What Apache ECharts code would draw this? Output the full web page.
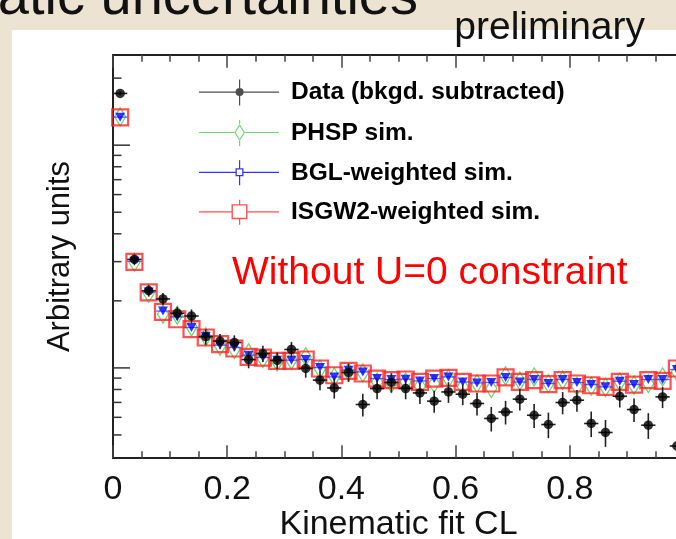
<!DOCTYPE html>
<html>
<head>
<meta charset="utf-8">
<script src="https://cdn.jsdelivr.net/npm/echarts@6/dist/echarts.min.js"></script>
<style>
html,body{margin:0;padding:0;background:#ede3d3;}
#c{width:676px;height:539px;}
</style>
</head>
<body>
<div id="c"></div>
<script>
// ---- data ----
const binCenters = [0.0125,0.0375,0.0625,0.0875,0.1125,0.1375,0.1625,0.1875,0.2125,0.2375,
  0.2625,0.2875,0.3125,0.3375,0.3625,0.3875,0.4125,0.4375,0.4625,0.4875,
  0.5125,0.5375,0.5625,0.5875,0.6125,0.6375,0.6625,0.6875,0.7125,0.7375,
  0.7625,0.7875,0.8125,0.8375,0.8625,0.8875,0.9125,0.9375,0.9625,0.9875];
const dataVals = [17.07,3.07,2.22,2.04,1.76,1.71,1.38,1.32,1.30,1.09,
  1.16,1.08,1.21,0.994,0.881,0.813,0.954,0.685,0.808,0.860,
  0.808,0.772,0.709,0.780,0.762,0.692,0.593,0.634,0.724,0.613,
  0.557,0.699,0.716,0.563,0.513,0.746,0.650,0.553,0.741,0.446];
const dataErrs = [0.37,0.16,0.13,0.13,0.12,0.12,0.11,0.10,0.10,0.094,
  0.097,0.094,0.099,0.09,0.088,0.085,0.09,0.08,0.085,0.086,
  0.085,0.083,0.08,0.083,0.082,0.08,0.075,0.077,0.081,0.076,
  0.073,0.08,0.08,0.074,0.071,0.082,0.078,0.073,0.081,0.066];
const phspVals = [13.4,2.98,2.163,1.742,1.724,1.528,1.378,1.252,1.209,1.168,
  1.102,1.064,1.083,1.121,0.987,0.911,0.959,0.950,0.865,0.851,
  0.865,0.828,0.851,0.896,0.822,0.851,0.808,0.921,0.874,0.911,
  0.851,0.881,0.828,0.828,0.817,0.865,0.836,0.851,0.911,0.959];
const bglVals = [13.36,3.01,2.19,1.80,1.694,1.518,1.388,1.264,1.235,1.140,
  1.113,1.083,1.083,1.091,1.004,0.911,0.977,0.959,0.896,0.887,
  0.890,0.874,0.896,0.911,0.865,0.856,0.860,0.906,0.865,0.887,
  0.851,0.887,0.860,0.842,0.822,0.871,0.842,0.887,0.887,0.983];
const isgwVals = [13.32,2.99,2.181,1.784,1.654,1.492,1.369,1.278,1.222,1.121,
  1.113,1.075,1.075,1.091,0.994,0.927,0.969,0.944,0.896,0.881,
  0.887,0.865,0.896,0.902,0.865,0.851,0.851,0.906,0.865,0.881,
  0.845,0.881,0.851,0.836,0.822,0.865,0.842,0.881,0.874,0.994];
const halfBin = 0.0125;
const xTickLabels = ['0','0.2','0.4','0.6','0.8','1'];
const yMajorTicks = [1, 10];
const yMinorTicks = [0.5,0.6,0.7,0.8,0.9,2,3,4,5,6,7,8,9,20];
const seriesNames = ['Data (bkgd. subtracted)','PHSP sim.','BGL-weighted sim.','ISGW2-weighted sim.'];

// ---- styles ----
const FONT = "'Liberation Sans', Arial, Helvetica, sans-serif";
const cBlack = '#000000', cGreen = '#4fcc4f', cBlue = '#0000ff', cRed = '#ff2626';

const pts = v => binCenters.map((x, i) => [x, v[i]]);

const iconData = 'path://M0 12H80V13.2H0Z M40 0H41.2V26H40Z M44.6 12.6A4 4 0 1 1 36.6 12.6A4 4 0 1 1 44.6 12.6Z';
const iconPhsp = 'path://M0 12H35V13.2H0Z M46 12H80V13.2H46Z M40 0H41.2V4H40Z M40 21H41.2V26H40Z ' +
  'M40.6 4L46 12.6L40.6 21.2L35.2 12.6Z M40.6 6.2L36.6 12.6L40.6 19L44.6 12.6Z';
const iconBgl = 'path://M0 12H36.5V13.2H0Z M44.5 12H80V13.2H44.5Z M40 0.5H41.2V8.5H40Z M40 16.5H41.2V25.5H40Z ' +
  'M36.5 8.5H44.5V16.5H36.5Z M37.8 9.8V15.2H43.2V9.8Z';
const iconIsgw = 'path://M0 12H32.5V13.2H0Z M48.5 12H80V13.2H48.5Z M40 0.5H41.2V5H40Z M40 20H41.2V25.5H40Z ' +
  'M32.5 5H48.5V20H32.5Z M33.9 6.4V18.6H47.1V6.4Z';

function errorBars(color, showVert, width) {
  return function (params, api) {
    const x = api.value(0), y = api.value(1), e = api.value(2);
    const l = api.coord([x - halfBin, y]);
    const r = api.coord([x + halfBin, y]);
    const kids = [{type:'line', shape:{x1:l[0], y1:l[1], x2:r[0], y2:r[1]}, style:{stroke:color, lineWidth:width}}];
    if (showVert) {
      const t = api.coord([x, y + e]);
      const b = api.coord([x, y - e]);
      kids.push({type:'line', shape:{x1:t[0], y1:t[1], x2:b[0], y2:b[1]}, style:{stroke:color, lineWidth:width}});
    }
    return {type:'group', children:kids};
  };
}
function yTickSeries(vals, len) {
  return {
    type:'custom', silent:true, clip:false, z:20,
    data: vals.map(v => [0, v]),
    renderItem: function (params, api) {
      const p = api.coord([0, api.value(1)]);
      return {type:'line', shape:{x1:p[0], y1:p[1], x2:p[0] + len, y2:p[1]}, style:{stroke:'#333', lineWidth:1.5}};
    }
  };
}

const chart = echarts.init(document.getElementById('c'), null, {renderer:'canvas'});
const option = {
  backgroundColor: '#ede3d3',
  animation: false,
  textStyle: {fontFamily: FONT},
  graphic: [
    {type:'rect', left:12, top:30, shape:{width:664, height:509}, style:{fill:'#ffffff'}, z:-10},
    {type:'text', x:418, y:27, style:{text:'Systematic uncertainties', font:'56px ' + FONT, fill:'#111', align:'right', verticalAlign:'bottom'}, z:-5},
    {type:'text', x:645, y:28, style:{text:'preliminary', font:'39px ' + FONT, fill:'#111', align:'right', verticalAlign:'middle'}},
    {type:'text', x:232, y:273, style:{text:'Without U=0 constraint', font:'39px ' + FONT, fill:'#ff0000', align:'left', verticalAlign:'middle'}, z:10}
  ],
  grid: {left:113, top:55, width:571, height:403, containLabel:false, outerBoundsMode:'none'},
  legend: {
    orient:'vertical', left:199, top:79.5, itemWidth:80, itemHeight:26, itemGap:14.4, padding:0,
    selectedMode:false,
    textStyle:{fontFamily:FONT, fontWeight:'bold', fontSize:24.5, color:'#000', padding:[0,0,0,7]},
    data: [
      {name:seriesNames[0], icon:iconData, itemStyle:{color:'#222', borderWidth:0}},
      {name:seriesNames[1], icon:iconPhsp, itemStyle:{color:cGreen, borderWidth:0}},
      {name:seriesNames[2], icon:iconBgl, itemStyle:{color:cBlue, borderWidth:0}},
      {name:seriesNames[3], icon:iconIsgw, itemStyle:{color:cRed, borderWidth:0}}
    ]
  },
  xAxis: [
    {
      type:'value', min:0, max:1, interval:0.2, position:'bottom',
      name:'Kinematic fit CL', nameLocation:'middle', nameGap:50, nameMoveOverlap:false,
      nameTextStyle:{fontSize:34, color:'#111', fontFamily:FONT},
      axisLine:{show:true, lineStyle:{color:'#222', width:2}},
      axisTick:{show:true, inside:true, length:12.7, lineStyle:{color:'#444', width:1.5}},
      minorTick:{show:true, splitNumber:4, length:6.7, lineStyle:{color:'#444', width:1.5}},
      axisLabel:{show:true, margin:15, fontSize:34, color:'#111', fontFamily:FONT, showMaxLabel:false,
        formatter: v => xTickLabels[Math.round(v / 0.2)]},
      splitLine:{show:false}
    },
    {
      type:'value', min:0, max:1, interval:0.2, position:'top',
      axisLine:{show:true, onZero:false, lineStyle:{color:'#222', width:2}},
      axisTick:{show:true, inside:true, length:12.7, lineStyle:{color:'#444', width:1.5}},
      minorTick:{show:true, splitNumber:4, length:6.7, lineStyle:{color:'#444', width:1.5}},
      axisLabel:{show:false}, splitLine:{show:false}
    }
  ],
  yAxis: {
    type:'log', logBase:10, min:0.394, max:25.4,
    name:'Arbitrary units', nameLocation:'middle', nameGap:37, nameRotate:90,
    nameTextStyle:{fontSize:31, color:'#111', fontFamily:FONT},
    axisLine:{show:true, lineStyle:{color:'#222', width:2}},
    axisTick:{show:false}, axisLabel:{show:false}, splitLine:{show:false}, minorTick:{show:false}
  },
  series: [
    yTickSeries(yMajorTicks, 17),
    yTickSeries(yMinorTicks, 8.5),
    {
      name:seriesNames[1], type:'scatter', data:pts(phspVals), z:3,
      symbol:'diamond', symbolSize:[11,18],
      itemStyle:{color:'rgba(0,0,0,0)', borderColor:cGreen, borderWidth:1.4}
    },
    {
      name:seriesNames[3], type:'scatter', data:pts(isgwVals), z:4,
      symbol:'rect', symbolSize:[16,16],
      itemStyle:{color:'rgba(0,0,0,0)', borderColor:cRed, borderWidth:2.2}
    },
    {
      type:'custom', data:binCenters.map((x, i) => [x, bglVals[i], 0]), z:5, silent:true,
      renderItem: errorBars('rgba(60,60,255,0.8)', false, 1.3)
    },
    {
      name:seriesNames[2], type:'scatter', data:pts(bglVals), z:6,
      symbol:'triangle', symbolRotate:180, symbolSize:[10,9],
      itemStyle:{color:cBlue}
    },
    {
      type:'custom', data:binCenters.map((x, i) => [x, dataVals[i], dataErrs[i]]), z:7, silent:true,
      renderItem: errorBars('#222', true, 1.6)
    },
    {
      name:seriesNames[0], type:'scatter', data:pts(dataVals), z:8,
      symbol:'circle', symbolSize:9.5,
      itemStyle:{color:cBlack}
    }
  ]
};
chart.setOption(option);
</script>
</body>
</html>
